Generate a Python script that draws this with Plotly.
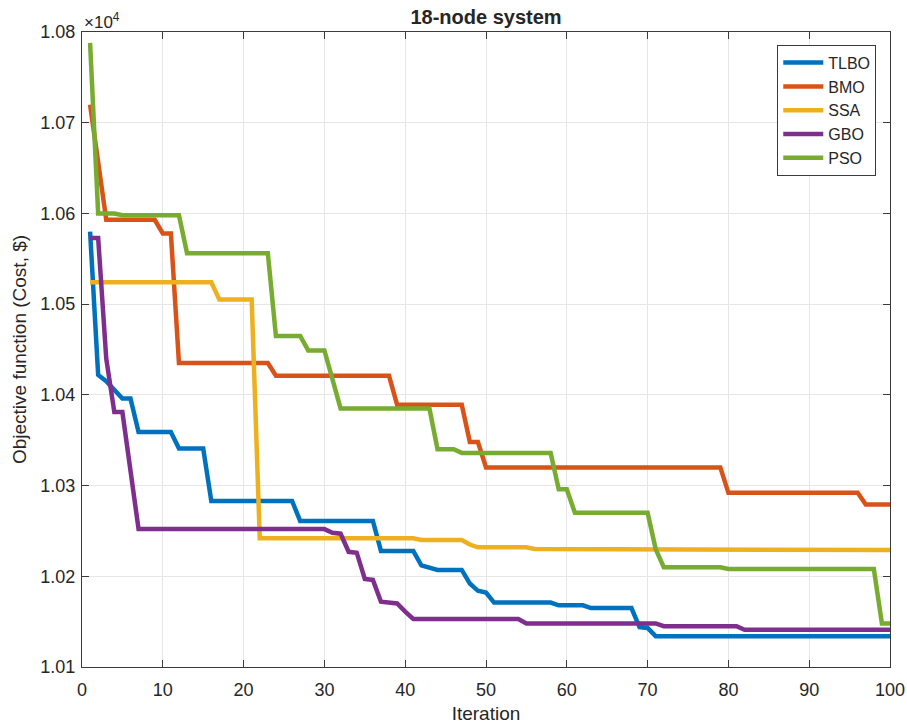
import plotly.graph_objects as go

# Convergence curves (best cost per iteration), iterations 1..100
iterations = list(range(1, 101))

tlbo = [10580, 10422, 10415, 10405, 10396, 10396, 10359, 10359, 10359, 10359,
        10359, 10341, 10341, 10341, 10341, 10283, 10283, 10283, 10283, 10283,
        10283, 10283, 10283, 10283, 10283, 10283, 10261, 10261, 10261, 10261,
        10261, 10261, 10261, 10261, 10261, 10261, 10228, 10228, 10228, 10228,
        10228, 10212, 10210, 10207, 10207, 10207, 10207, 10192, 10184, 10182,
        10171, 10171, 10171, 10171, 10171, 10171, 10171, 10171, 10168, 10168,
        10168, 10168, 10165, 10165, 10165, 10165, 10165, 10165, 10144, 10143,
        10134, 10134, 10134, 10134, 10134, 10134, 10134, 10134, 10134, 10134,
        10134, 10134, 10134, 10134, 10134, 10134, 10134, 10134, 10134, 10134,
        10134, 10134, 10134, 10134, 10134, 10134, 10134, 10134, 10134, 10134]

bmo = [10720, 10655, 10593, 10593, 10593, 10593, 10593, 10593, 10593, 10578,
       10578, 10435, 10435, 10435, 10435, 10435, 10435, 10435, 10435, 10435,
       10435, 10435, 10435, 10421, 10421, 10421, 10421, 10421, 10421, 10421,
       10421, 10421, 10421, 10421, 10421, 10421, 10421, 10421, 10389, 10389,
       10389, 10389, 10389, 10389, 10389, 10389, 10389, 10348, 10348, 10320,
       10320, 10320, 10320, 10320, 10320, 10320, 10320, 10320, 10320, 10320,
       10320, 10320, 10320, 10320, 10320, 10320, 10320, 10320, 10320, 10320,
       10320, 10320, 10320, 10320, 10320, 10320, 10320, 10320, 10320, 10292,
       10292, 10292, 10292, 10292, 10292, 10292, 10292, 10292, 10292, 10292,
       10292, 10292, 10292, 10292, 10292, 10292, 10279, 10279, 10279, 10279]

ssa = [10524, 10524, 10524, 10524, 10524, 10524, 10524, 10524, 10524, 10524,
       10524, 10524, 10524, 10524, 10524, 10524, 10505, 10505, 10505, 10505,
       10505, 10242, 10242, 10242, 10242, 10242, 10242, 10242, 10242, 10242,
       10242, 10242, 10242, 10242, 10242, 10242, 10242, 10242, 10242, 10242,
       10242, 10240, 10240, 10240, 10240, 10240, 10240, 10235, 10232, 10232,
       10232, 10232, 10232, 10232, 10232, 10230, 10230, 10230, 10230, 10230,
       10230, 10230, 10230, 10230, 10229, 10229, 10229, 10229, 10229, 10229,
       10229, 10229, 10229, 10229, 10229, 10229, 10229, 10229, 10229, 10229,
       10229, 10229, 10229, 10229, 10229, 10229, 10229, 10229, 10229, 10229,
       10229, 10229, 10229, 10229, 10229, 10229, 10229, 10229, 10229, 10229]

gbo = [10573, 10573, 10440, 10381, 10381, 10316, 10252, 10252, 10252, 10252,
       10252, 10252, 10252, 10252, 10252, 10252, 10252, 10252, 10252, 10252,
       10252, 10252, 10252, 10252, 10252, 10252, 10252, 10252, 10252, 10252,
       10248, 10247, 10227, 10226, 10197, 10196, 10172, 10171, 10170, 10161,
       10153, 10153, 10153, 10153, 10153, 10153, 10153, 10153, 10153, 10153,
       10153, 10153, 10153, 10153, 10148, 10148, 10148, 10148, 10148, 10148,
       10148, 10148, 10148, 10148, 10148, 10148, 10148, 10148, 10148, 10148,
       10148, 10145, 10145, 10145, 10145, 10145, 10145, 10145, 10145, 10145,
       10145, 10141, 10141, 10141, 10141, 10141, 10141, 10141, 10141, 10141,
       10141, 10141, 10141, 10141, 10141, 10141, 10141, 10141, 10141, 10141]

pso = [10788, 10600, 10600, 10600, 10598, 10598, 10598, 10598, 10598, 10598,
       10598, 10598, 10556, 10556, 10556, 10556, 10556, 10556, 10556, 10556,
       10556, 10556, 10556, 10465, 10465, 10465, 10465, 10449, 10449, 10449,
       10417, 10385, 10385, 10385, 10385, 10385, 10385, 10385, 10385, 10385,
       10385, 10385, 10385, 10340, 10340, 10340, 10336, 10336, 10336, 10336,
       10336, 10336, 10336, 10336, 10336, 10336, 10336, 10336, 10296, 10296,
       10270, 10270, 10270, 10270, 10270, 10270, 10270, 10270, 10270, 10270,
       10230, 10210, 10210, 10210, 10210, 10210, 10210, 10210, 10210, 10208,
       10208, 10208, 10208, 10208, 10208, 10208, 10208, 10208, 10208, 10208,
       10208, 10208, 10208, 10208, 10208, 10208, 10208, 10208, 10148, 10148]

series_names = ["TLBO", "BMO", "SSA", "GBO", "PSO"]
series_values = [tlbo, bmo, ssa, gbo, pso]
series_colors = ["#0072BD", "#D95319", "#EDB120", "#7E2F8E", "#77AC30"]

x_ticks = [0, 10, 20, 30, 40, 50, 60, 70, 80, 90, 100]
y_ticks = [10100, 10200, 10300, 10400, 10500, 10600, 10700, 10800]
y_tick_labels = ["1.01", "1.02", "1.03", "1.04", "1.05", "1.06", "1.07", "1.08"]

FONT = "Liberation Sans, Arial, Helvetica, sans-serif"
AXIS_COLOR = "#3a3a3a"
TEXT_COLOR = "#262626"

fig = go.Figure()
for name, vals, col in zip(series_names, series_values, series_colors):
    fig.add_trace(go.Scatter(
        x=iterations, y=vals, mode="lines", name=name,
        line=dict(color=col, width=4.5),
    ))

axis_common = dict(
    showline=True, linecolor=AXIS_COLOR, linewidth=1, mirror="ticks",
    ticks="inside", ticklen=7, tickcolor=AXIS_COLOR, tickwidth=1,
    showgrid=True, gridcolor="#e6e6e6", gridwidth=1, zeroline=False,
    tickfont=dict(family=FONT, size=18, color=TEXT_COLOR),
    automargin=False,
)

fig.update_layout(
    width=907, height=727,
    margin=dict(l=82, r=17, t=32, b=60),
    paper_bgcolor="white", plot_bgcolor="white",
    font=dict(family=FONT, color=TEXT_COLOR),
    title=dict(text="<b>18-node system</b>", x=(82 + 890) / 2 / 907, xanchor="center",
               y=1 - 17 / 727, yanchor="middle",
               font=dict(family=FONT, size=20, color=TEXT_COLOR)),
    xaxis=dict(range=[0, 100], tickvals=x_ticks, ticklabelstandoff=6,
               title=dict(text="Iteration", font=dict(family=FONT, size=19), standoff=8),
               **axis_common),
    yaxis=dict(range=[10100, 10800], tickvals=y_ticks, ticktext=y_tick_labels,
               ticklabelstandoff=2,
               title=dict(text="Objective function (Cost, $)", font=dict(family=FONT, size=19),
                          standoff=8),
               **axis_common),
    legend=dict(x=0.983, xanchor="right", y=0.98, yanchor="top",
                bgcolor="white", bordercolor=AXIS_COLOR, borderwidth=1,
                font=dict(family=FONT, size=16, color=TEXT_COLOR),
                tracegroupgap=0, itemwidth=40),
    showlegend=True,
)

fig.add_annotation(
    xref="paper", yref="paper", x=0, y=1, xanchor="left", yanchor="bottom",
    text="×10<sup>4</sup>", showarrow=False, yshift=-2,
    font=dict(family=FONT, size=17, color=TEXT_COLOR),
)

fig.write_html("out.html")
